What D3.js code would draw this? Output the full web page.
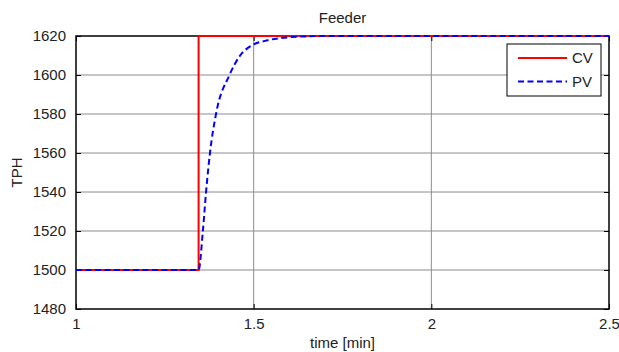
<!DOCTYPE html>
<html>
<head>
<meta charset="utf-8">
<script src="https://cdnjs.cloudflare.com/ajax/libs/d3/7.8.5/d3.min.js"></script>
<style>
body { margin: 0; background: #fff; }
text { font-family: "Liberation Sans", Arial, sans-serif; fill: #222; }
</style>
</head>
<body>
<script>
var width = 619, height = 352;

var xTicks = [1, 1.5, 2, 2.5];
var yTicks = [1480, 1500, 1520, 1540, 1560, 1580, 1600, 1620];

var cvTime  = [1, 1.345, 1.345, 2.5];
var cvValue = [1500, 1500, 1620, 1620];

var pvTime  = [1, 1.345, 1.357, 1.366, 1.377, 1.394, 1.432, 1.462, 1.495, 1.532, 1.575, 1.61, 1.65, 1.7, 2.5];
var pvValue = [1500, 1500, 1520, 1540, 1560, 1580, 1600, 1610, 1615.2, 1617.5, 1618.9, 1619.5, 1619.8, 1620, 1620];

var m = {left: 76, right: 10, top: 36, bottom: 43};
var iw = width - m.left - m.right, ih = height - m.top - m.bottom;

var svg = d3.select("body").append("svg")
    .attr("width", width)
    .attr("height", height);

var x = d3.scaleLinear().domain([1, 2.5]).range([0, iw]);
var y = d3.scaleLinear().domain([1480, 1620]).range([ih, 0]);

var g = svg.append("g").attr("transform", "translate(" + m.left + "," + m.top + ")");

// grid
g.selectAll(".gx").data(xTicks.slice(1, -1)).enter().append("line")
    .attr("x1", function(d) { return x(d); }).attr("x2", function(d) { return x(d); })
    .attr("y1", 0).attr("y2", ih)
    .attr("stroke", "#8c8c8c").attr("stroke-width", 1);
g.selectAll(".gy").data(yTicks.slice(1, -1)).enter().append("line")
    .attr("y1", function(d) { return y(d); }).attr("y2", function(d) { return y(d); })
    .attr("x1", 0).attr("x2", iw)
    .attr("stroke", "#8c8c8c").attr("stroke-width", 1);

// axes with inward ticks on all four sides
function styleAxis(sel) {
    sel.select(".domain").remove();
    sel.selectAll(".tick line").attr("stroke", "#000").attr("stroke-width", 1);
    sel.selectAll("text").attr("font-size", "15px").attr("fill", "#222");
}
g.append("g").attr("transform", "translate(0," + ih + ")")
    .call(d3.axisBottom(x).tickValues(xTicks).tickFormat(d3.format("")).tickSizeInner(-5).tickPadding(9))
    .call(styleAxis);
g.append("g")
    .call(d3.axisLeft(y).tickValues(yTicks).tickFormat(d3.format("d")).tickSizeInner(-5).tickPadding(10))
    .call(styleAxis);
g.append("g")
    .call(d3.axisTop(x).tickValues(xTicks).tickSizeInner(-5).tickFormat(""))
    .call(styleAxis);
g.append("g").attr("transform", "translate(" + iw + ",0)")
    .call(d3.axisRight(y).tickValues(yTicks).tickSizeInner(-5).tickFormat(""))
    .call(styleAxis);

// lines
var cv = cvTime.map(function(t, i) { return [t, cvValue[i]]; });
var pv = pvTime.map(function(t, i) { return [t, pvValue[i]]; });

var line = d3.line()
    .x(function(d) { return x(d[0]); })
    .y(function(d) { return y(d[1]); });

// box
g.append("rect").attr("width", iw).attr("height", ih)
    .attr("fill", "none").attr("stroke", "#000").attr("stroke-width", 1.5);

g.append("path").datum(cv)
    .attr("d", line)
    .attr("fill", "none").attr("stroke", "#ff0000").attr("stroke-width", 2);

g.append("path").datum(pv)
    .attr("d", line.curve(d3.curveMonotoneX))
    .attr("fill", "none").attr("stroke", "#0000ff").attr("stroke-width", 2)
    .attr("stroke-dasharray", "6,3.5");

// legend
var lg = svg.append("g").attr("transform", "translate(507,44)");
lg.append("rect").attr("width", 94).attr("height", 52)
    .attr("fill", "#fff").attr("stroke", "#000").attr("stroke-width", 1);
var items = [{name: "CV", color: "#ff0000", dash: null}, {name: "PV", color: "#0000ff", dash: "6,3.5"}];
items.forEach(function(it, i) {
    var yy = 14 + i * 23.5;
    lg.append("line").attr("x1", 11).attr("x2", 60).attr("y1", yy).attr("y2", yy)
        .attr("stroke", it.color).attr("stroke-width", 2)
        .attr("stroke-dasharray", it.dash);
    lg.append("text").attr("x", 65).attr("y", yy).attr("dy", "0.36em")
        .attr("font-size", "15px").text(it.name);
});

// labels
svg.append("text").attr("x", m.left + iw / 2).attr("y", 18).attr("dy", "0.36em")
    .attr("text-anchor", "middle").attr("font-size", "15px").text("Feeder");
svg.append("text").attr("x", m.left + iw / 2).attr("y", 342.5).attr("dy", "0.36em")
    .attr("text-anchor", "middle").attr("font-size", "15px").text("time [min]");
svg.append("text").attr("transform", "translate(17," + (m.top + ih / 2) + ") rotate(-90)")
    .attr("dy", "0.36em")
    .attr("text-anchor", "middle").attr("font-size", "15px").text("TPH");
</script>
</body>
</html>
